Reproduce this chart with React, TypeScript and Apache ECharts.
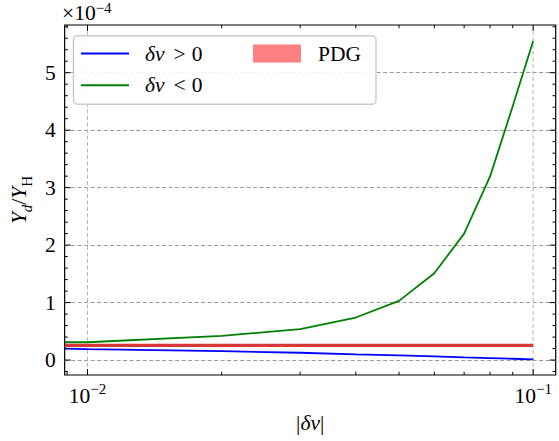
import React, { useEffect, useRef } from "react";
import * as echarts from "echarts";

// |δv| values
const X_VALUES = [0.0089, 0.01, 0.02, 0.03, 0.04, 0.05, 0.06, 0.07, 0.08, 0.09, 0.1];
// Y_d / Y_H in units of 1e-4
const BLUE_POS = [0.2, 0.19, 0.155, 0.127, 0.1, 0.08, 0.063, 0.047, 0.035, 0.023, 0.012];
const GREEN_NEG = [0.31, 0.31, 0.42, 0.54, 0.74, 1.03, 1.51, 2.2, 3.19, 4.42, 5.55];
const PDG_VALUE = 0.2547;
const PDG_X = [0.0089, 0.1];

// x axis range (|δv|), drawn on a log10 scale
const X_MIN = 0.008886;
const X_MAX = 0.11235;
const X_MAJOR_TICKS = [0.01, 0.1];
const X_MINOR_TICKS = [0.009, 0.02, 0.03, 0.04, 0.05, 0.06, 0.07, 0.08, 0.09];
const Y_MAJOR_TICKS = [0, 1, 2, 3, 4, 5];
const Y_MINOR_TICKS = [
  -0.2, 0.2, 0.4, 0.6, 0.8, 1.2, 1.4, 1.6, 1.8, 2.2, 2.4, 2.6, 2.8, 3.2, 3.4, 3.6, 3.8,
  4.2, 4.4, 4.6, 4.8, 5.2, 5.4, 5.6, 5.8,
];

const FONT = "Liberation Serif";
const FS = 21.5;
const SFS = 15;
const lg = (v: number) => Math.log10(v);
const SUP: Record<string, string> = { "-2": "−2", "-1": "−1" };

function tickSeries(axis: "x" | "y", data: number[][]) {
  return {
    type: "custom",
    silent: true,
    clip: false,
    z: 10,
    encode: { x: 0, y: 1 },
    data,
    renderItem: (params: any, api: any) => {
      const cs = params.coordSys;
      const major = api.value(2) === 1;
      const len = major ? 6 : 3.2;
      const p = api.coord([api.value(0), api.value(1)]);
      const style = { stroke: "#000", lineWidth: 1 };
      if (axis === "x") {
        const bottom = cs.y + cs.height;
        return {
          type: "group",
          children: [
            { type: "line", shape: { x1: p[0], y1: bottom, x2: p[0], y2: bottom - len }, style },
            { type: "line", shape: { x1: p[0], y1: cs.y, x2: p[0], y2: cs.y + len }, style },
          ],
        };
      }
      const right = cs.x + cs.width;
      return {
        type: "group",
        children: [
          { type: "line", shape: { x1: cs.x, y1: p[1], x2: cs.x + len, y2: p[1] }, style },
          { type: "line", shape: { x1: right, y1: p[1], x2: right - len, y2: p[1] }, style },
        ],
      };
    },
  };
}

function xGridSeries(data: number[][]) {
  return {
    type: "custom",
    silent: true,
    clip: false,
    z: 1,
    encode: { x: 0, y: 1 },
    data,
    renderItem: (params: any, api: any) => {
      const cs = params.coordSys;
      const p = api.coord([api.value(0), api.value(1)]);
      return {
        type: "line",
        shape: { x1: p[0], y1: cs.y, x2: p[0], y2: cs.y + cs.height },
        style: { stroke: "#b4b4b4", lineWidth: 1, lineDash: [4, 2.5] },
      };
    },
  };
}

export default function App() {
  const ref = useRef<HTMLDivElement>(null);
  useEffect(() => {
    if (!ref.current) return;
    const chart = echarts.init(ref.current, null, { renderer: "svg" });
    const xTicks = [
      ...X_MAJOR_TICKS.map((v) => [lg(v), 0, 1]),
      ...X_MINOR_TICKS.map((v) => [lg(v), 0, 0]),
    ];
    const yTicks = [
      ...Y_MAJOR_TICKS.map((v) => [-2, v, 1]),
      ...Y_MINOR_TICKS.map((v) => [-2, v, 0]),
    ];
    const legendText: Record<string, string> = {
      "δv > 0": "{i|δv}{o|>}0",
      "δv < 0": "{i|δv}{o|<}0",
      PDG: "PDG",
    };
    chart.setOption({
      animation: false,
      textStyle: { fontFamily: FONT },
      title: {
        text: "{b|×10}{s|−4}",
        left: 62,
        top: 0,
        padding: 0,
        textStyle: {
          fontFamily: FONT,
          fontWeight: "normal",
          rich: {
            b: { fontSize: FS, fontFamily: FONT, color: "#000", lineHeight: 24, verticalAlign: "bottom" },
            s: { fontSize: SFS, fontFamily: FONT, color: "#000", lineHeight: 15, verticalAlign: "top" },
          },
        },
      },
      grid: {
        left: 62,
        top: 25,
        width: 493.7,
        height: 350,
        show: true,
        borderColor: "#000",
        borderWidth: 1.2,
        backgroundColor: "transparent",
      },
      xAxis: {
        type: "value",
        min: lg(X_MIN),
        max: lg(X_MAX),
        axisLine: { show: false },
        axisTick: { show: false },
        splitLine: { show: false },
        axisLabel: {
          margin: 6,
          showMinLabel: false,
          showMaxLabel: false,
          formatter: (v: number) => {
            if (Math.abs(v - Math.round(v)) > 1e-6) return "";
            const k = String(Math.round(v));
            return "{b|10}{s|" + (SUP[k] || k) + "}";
          },
          rich: {
            b: { fontSize: FS, fontFamily: FONT, color: "#000", lineHeight: 26, verticalAlign: "bottom" },
            s: { fontSize: SFS, fontFamily: FONT, color: "#000", lineHeight: 15, verticalAlign: "top" },
          },
        },
        name: "|{i|δv}|",
        nameLocation: "middle",
        nameGap: 37,
        nameTextStyle: {
          fontSize: FS,
          fontFamily: FONT,
          color: "#000",
          rich: { i: { fontSize: FS, fontFamily: FONT, fontStyle: "italic", color: "#000" } },
        },
      },
      yAxis: {
        type: "value",
        min: -0.26,
        max: 5.83,
        splitNumber: 6,
        axisLine: { show: false },
        axisTick: { show: false },
        splitLine: {
          show: true,
          showMinLine: false,
          showMaxLine: false,
          lineStyle: { color: "#9a9a9a", type: [4, 2.5], width: 1 },
        },
        axisLabel: {
          margin: 9,
          fontSize: FS,
          color: "#000",
          fontFamily: FONT,
          formatter: (v: number) => (Math.abs(v - Math.round(v)) < 1e-9 ? String(Math.round(v)) : ""),
        },
        name: "{i|Y}{sub|d}{n|/}{i|Y}{subr|H}",
        nameLocation: "middle",
        nameRotate: 90,
        nameGap: 19,
        nameTextStyle: {
          color: "#000",
          rich: {
            i: { fontSize: FS, fontFamily: FONT, fontStyle: "italic", color: "#000", lineHeight: 26, verticalAlign: "top" },
            n: { fontSize: FS, fontFamily: FONT, color: "#000", lineHeight: 26, verticalAlign: "top" },
            sub: { fontSize: SFS, fontFamily: FONT, fontStyle: "italic", color: "#000", lineHeight: 15, verticalAlign: "bottom" },
            subr: { fontSize: SFS, fontFamily: FONT, color: "#000", lineHeight: 15, verticalAlign: "bottom" },
          },
        },
      },
      legend: [
        {
          orient: "vertical",
          left: 81,
          top: 42,
          padding: 0,
          itemWidth: 48,
          itemHeight: 2,
          itemGap: 8.7,
          z: 20,
          data: [
            { name: "δv > 0", icon: "rect", itemStyle: { color: "#0000ff", borderWidth: 0 } },
            { name: "δv < 0", icon: "rect", itemStyle: { color: "#008000", borderWidth: 0 } },
          ],
          formatter: (name: string) => legendText[name],
          textStyle: {
            fontSize: FS,
            lineHeight: 23,
            fontFamily: FONT,
            color: "#000",
            padding: [0, 0, 0, 11],
            rich: {
              i: { fontSize: FS, fontFamily: FONT, fontStyle: "italic", color: "#000", lineHeight: 23 },
              o: { fontSize: FS, fontFamily: FONT, color: "#000", lineHeight: 23, padding: [0, 6, 0, 9] },
            },
          },
        },
        {
          orient: "vertical",
          left: 253,
          top: 42,
          padding: 0,
          itemWidth: 48,
          itemHeight: 18,
          z: 20,
          data: [{ name: "PDG", icon: "rect", itemStyle: { color: "#ff8080", borderWidth: 0 } }],
          formatter: (name: string) => legendText[name],
          textStyle: {
            fontSize: FS,
            lineHeight: 23,
            fontFamily: FONT,
            color: "#000",
            padding: [0, 0, 0, 12],
          },
        },
      ],
      graphic: [
        {
          type: "rect",
          z: 15,
          shape: { x: 73.5, y: 35.7, width: 302.5, height: 68.5, r: 4 },
          style: { fill: "rgba(255,255,255,0.9)", stroke: "#cccccc", lineWidth: 1.5 },
        },
      ],
      series: [
        {
          name: "δv > 0",
          type: "line",
          symbol: "none",
          data: X_VALUES.map((x, i) => [lg(x), BLUE_POS[i]]),
          lineStyle: { color: "#0000ff", width: 1.8 },
          itemStyle: { color: "#0000ff" },
          z: 3,
        },
        {
          name: "δv < 0",
          type: "line",
          symbol: "none",
          data: X_VALUES.map((x, i) => [lg(x), GREEN_NEG[i]]),
          lineStyle: { color: "#008000", width: 1.8 },
          itemStyle: { color: "#008000" },
          z: 3,
        },
        {
          name: "PDG",
          type: "line",
          symbol: "none",
          data: PDG_X.map((x) => [lg(x), PDG_VALUE]),
          lineStyle: { color: "#d93838", width: 3.4 },
          itemStyle: { color: "#ff8080" },
          z: 3,
        },
        xGridSeries(X_MAJOR_TICKS.map((v) => [lg(v), 0])),
        tickSeries("x", xTicks),
        tickSeries("y", yTicks),
      ],
    });
    return () => chart.dispose();
  }, []);
  return <div ref={ref} style={{ width: 559, height: 441, position: "absolute", left: 0, top: 0 }} />;
}
